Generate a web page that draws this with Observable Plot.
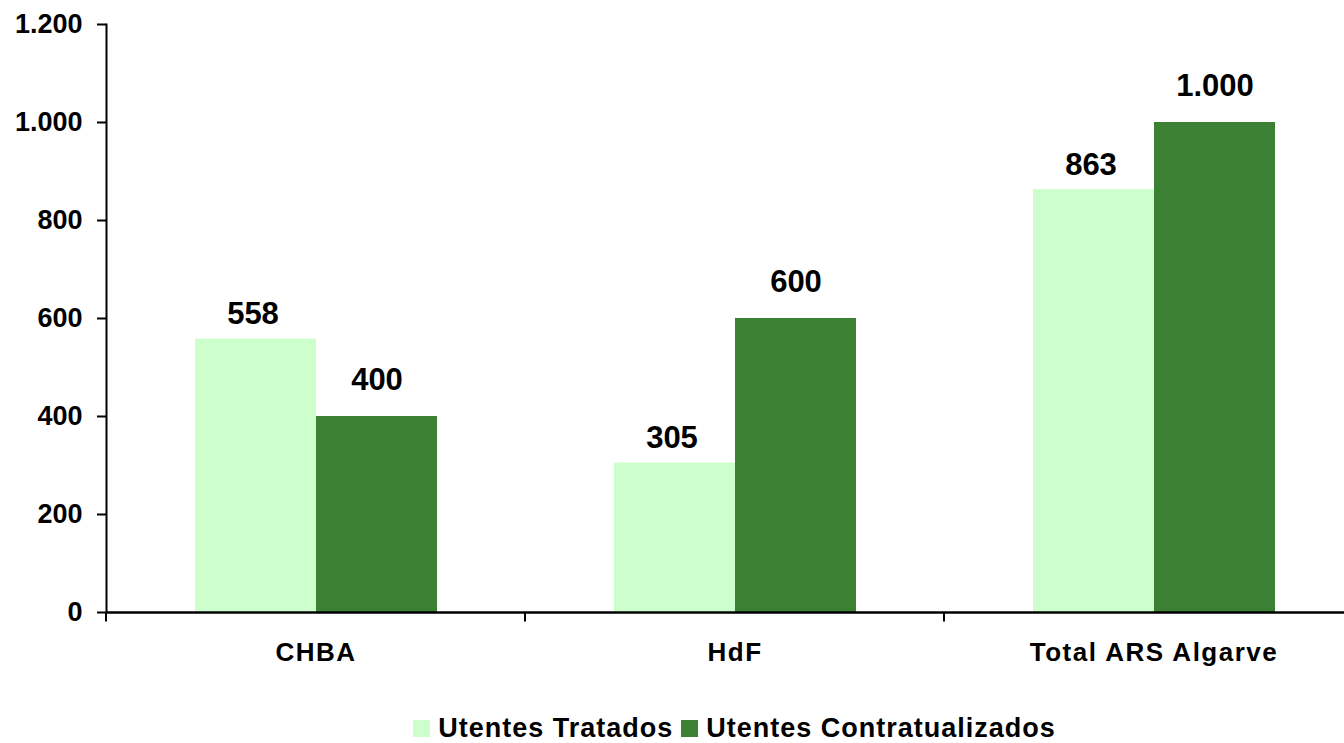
<!DOCTYPE html>
<html><head><meta charset="utf-8">
<script src="https://cdn.jsdelivr.net/npm/d3@7"></script>
<script src="https://cdn.jsdelivr.net/npm/@observablehq/plot@0.6"></script>
<style>
html,body{margin:0;padding:0;overflow:hidden;background:#fff;}
body{font-family:"Liberation Sans",Arial,sans-serif;}
#legend{display:flex;justify-content:center;align-items:center;box-sizing:border-box;width:1363px;padding-left:106px;padding-top:14px;height:43px;font-weight:bold;font-size:27px;letter-spacing:1px;color:#000;}
#legend .item{display:flex;align-items:center;margin:0 4px;}
#legend .sw{width:17px;height:17px;margin-right:8px;}
</style></head><body>
<div id="chart"></div><div id="legend"></div>
<script>
const categories = ["CHBA", "HdF", "Total ARS Algarve"];
const series = ["Utentes Tratados", "Utentes Contratualizados"];
const tratados = [558, 305, 863];
const contratualizados = [400, 600, 1000];
const yTicks = [0, 200, 400, 600, 800, 1000, 1200];
const colors = ["#CCFFCC", "#3C8133"];

const data = categories.flatMap((c, i) => [
  {category: c, series: series[0], value: tratados[i]},
  {category: c, series: series[1], value: contratualizados[i]}
]);
const fmt = d3.formatLocale({decimal: ",", thousands: ".", grouping: [3], currency: ["", ""]}).format(",");

const chart = Plot.plot({
  width: 1344, height: 700,
  marginLeft: 106, marginRight: -19, marginTop: 24, marginBottom: 88,
  style: {fontFamily: "'Liberation Sans', Arial, sans-serif", fontWeight: "bold", color: "#000", background: "#fff", overflow: "visible"},
  fx: {domain: categories, padding: 0, label: null, axis: null},
  x: {domain: series, paddingInner: 0, paddingOuter: 0.725, axis: null},
  y: {domain: [0, 1200], label: null, axis: null},
  color: {domain: series, range: colors},
  marks: [
    Plot.barY(data, {fx: "category", x: "series", y: "value", fill: "series"}),
    Plot.text(data.filter(d => d.series === series[0]), {fx: "category", x: "series", y: "value", text: d => fmt(d.value), dy: -25, dx: -3, fontSize: 31, fontWeight: "bold", fill: "#000"}),
    Plot.text(data.filter(d => d.series === series[1]), {fx: "category", x: "series", y: "value", text: d => fmt(d.value), dy: -36, fontSize: 31, fontWeight: "bold", fill: "#000"}),
    Plot.axisY({ticks: yTicks, tickFormat: fmt, tickSize: 9, tickPadding: 15, fontSize: 27, fontWeight: "bold", strokeWidth: 2, label: null}),
    Plot.frame({anchor: "left", facetAnchor: "left", stroke: "#000", strokeWidth: 2}),
    Plot.axisFx({anchor: "bottom", tickSize: 0, tickPadding: 30, fontSize: 26, fontWeight: "bold", label: null}),
    Plot.ruleY([0], {stroke: "#000", strokeWidth: 2.5,
      render(index, scales, values, dimensions, context, next) {
        const g = next(index, scales, values, dimensions, context);
        const line = g.querySelector("line");
        if (line) {
          const x1 = +line.getAttribute("x1");
          const y1 = +line.getAttribute("y1");
          const t = document.createElementNS("http://www.w3.org/2000/svg", "line");
          t.setAttribute("x1", x1); t.setAttribute("x2", x1);
          t.setAttribute("y1", y1); t.setAttribute("y2", y1 + 9);
          t.setAttribute("stroke", "#000"); t.setAttribute("stroke-width", 2);
          line.parentNode.appendChild(t);
        }
        return g;
      }})
  ]
});
d3.select(chart).selectAll('g[aria-label="fx-axis tick label"] text').style("letter-spacing", "1.5px");
document.getElementById("chart").appendChild(chart);

const legend = document.getElementById("legend");
series.forEach((s, i) => {
  const item = document.createElement("div");
  item.className = "item";
  const sw = document.createElement("div");
  sw.className = "sw"; sw.style.background = colors[i];
  const label = document.createElement("span");
  label.textContent = s;
  item.appendChild(sw); item.appendChild(label);
  legend.appendChild(item);
});
</script></body></html>
